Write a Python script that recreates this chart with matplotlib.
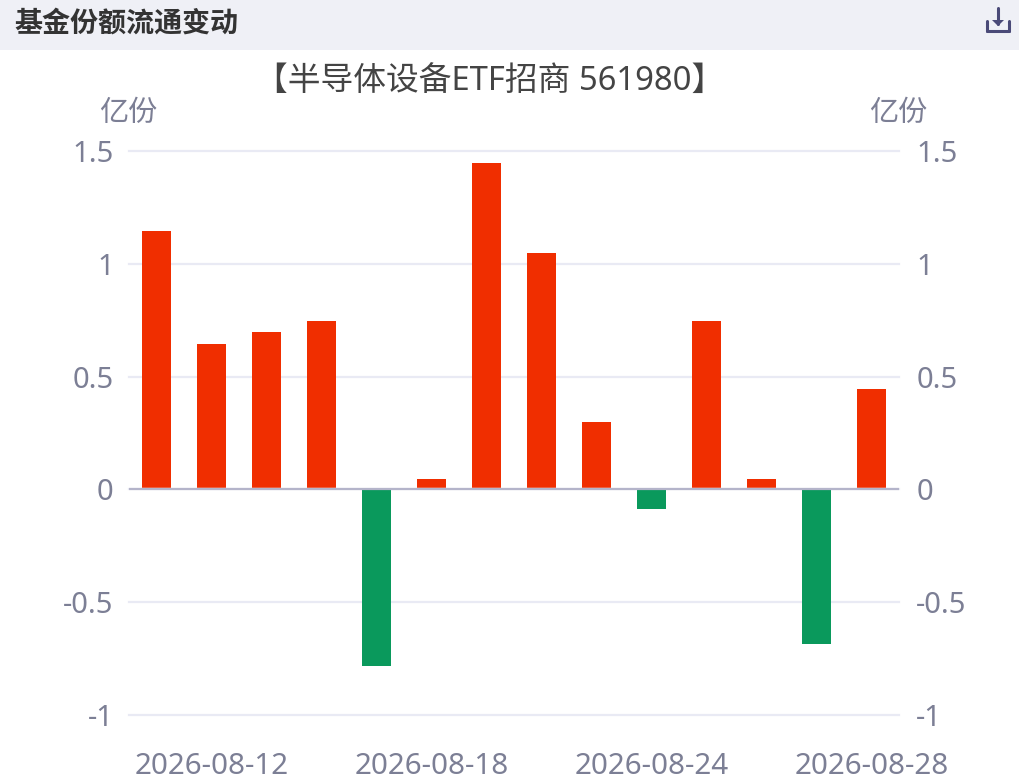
import matplotlib
matplotlib.use("Agg")
import matplotlib.pyplot as plt
from matplotlib.patches import Rectangle
from matplotlib.transforms import ScaledTranslation

plt.rcParams['font.family'] = ['Noto Sans', 'Noto Sans CJK SC', 'DejaVu Sans']

dates = ["2026-08-11", "2026-08-12", "2026-08-13", "2026-08-14", "2026-08-17",
         "2026-08-18", "2026-08-19", "2026-08-20", "2026-08-21", "2026-08-24",
         "2026-08-25", "2026-08-26", "2026-08-27", "2026-08-28"]
values = [1.145, 0.645, 0.697, 0.745, -0.785, 0.045, 1.445, 1.047, 0.297, -0.087, 0.745, 0.045, -0.685, 0.445]
shown_dates = ["2026-08-12", "2026-08-18", "2026-08-24", "2026-08-28"]
y_ticks = [-1, -0.5, 0, 0.5, 1, 1.5]
y_labels = ["-1", "-0.5", "0", "0.5", "1", "1.5"]
header = "基金份额流通变动"
title = "【半导体设备ETF招商 561980】"
unit = "亿份"

W, H = 1020, 782
RED, GREEN = "#f02e00", "#0a995c"
GRID, AXIS = "#e9eaf4", "#b4b4ca"
TICK = "#7c7f95"

fig = plt.figure(figsize=(W / 100, H / 100), dpi=100, facecolor="white")
L, R, T, B = 129, 899, 151, 715
ax = fig.add_axes([L / W, 1 - B / H, (R - L) / W, (B - T) / H])
ax.set_xlim(-0.5, len(dates) - 0.5)
ax.set_ylim(-1, 1.5)

x = list(range(len(dates)))
colors = [RED if v >= 0 else GREEN for v in values]
ax.bar(x, values, width=29 / 55, color=colors, linewidth=0, zorder=2)

ax.set_yticks(y_ticks, y_labels)
ax.yaxis.grid(True, color=GRID, linewidth=1.6, zorder=1, clip_on=False)
ax.set_axisbelow(True)
ax.tick_params(axis="y", length=0, pad=11, labelsize=21, labelcolor=TICK)
ax.set_xticks([dates.index(d) for d in shown_dates], shown_dates)
ax.tick_params(axis="x", length=0, pad=26.5, labelsize=21.3, labelcolor=TICK)
for s in ax.spines.values():
    s.set_visible(False)

# thin white seam above the zero line, then the zero line itself
seam = ax.get_yaxis_transform() + ScaledTranslation(0, 1.7 / 100, fig.dpi_scale_trans)
ax.plot([0, 1], [0, 0], color="white", linewidth=1.0, transform=seam, zorder=3)
ax.axhline(0, color=AXIS, linewidth=1.6, zorder=4)

ax2 = ax.twinx()
ax2.set_ylim(ax.get_ylim())
ax2.set_yticks(y_ticks, y_labels)
ax2.tick_params(axis="y", length=0, pad=12.5, labelsize=21, labelcolor=TICK)
for s in ax2.spines.values():
    s.set_visible(False)

def px(xp, yp):
    return xp / W, 1 - yp / H

# header band
fig.add_artist(Rectangle((0, 1 - 50 / H), 1, 50 / H, transform=fig.transFigure,
                         facecolor="#eff0f6", edgecolor="none", zorder=-1))
fig.text(*px(14, 24), header, fontsize=20.2, fontweight="bold", color="#333333",
         ha="left", va="center", family=['Noto Sans CJK SC', 'DejaVu Sans'])

# download icon
ICON = "#4a4a78"
for (x0, y0), (x1, y1), lw in [((998, 8), (998, 24), 2.2),
                               ((987, 21), (987, 31), 2.2),
                               ((1009, 21), (1009, 31), 2.2),
                               ((987, 31), (1009, 31), 2.2)]:
    fig.add_artist(plt.Line2D([x0 / W, x1 / W], [1 - y0 / H, 1 - y1 / H], color=ICON,
                              linewidth=lw, solid_capstyle="round", transform=fig.transFigure))
fig.add_artist(plt.Polygon([px(992, 20), px(1004, 20), px(998, 26)], closed=True,
                           facecolor=ICON, edgecolor="none", transform=fig.transFigure))

fig.text(*px(490, 81), title, fontsize=23.6, color="#444444", ha="center", va="center")
fig.text(*px(128.5, 113), unit, fontsize=21, color=TICK, ha="center", va="center")
fig.text(*px(898.5, 113), unit, fontsize=21, color=TICK, ha="center", va="center")

fig.savefig("out.png", dpi=100)
